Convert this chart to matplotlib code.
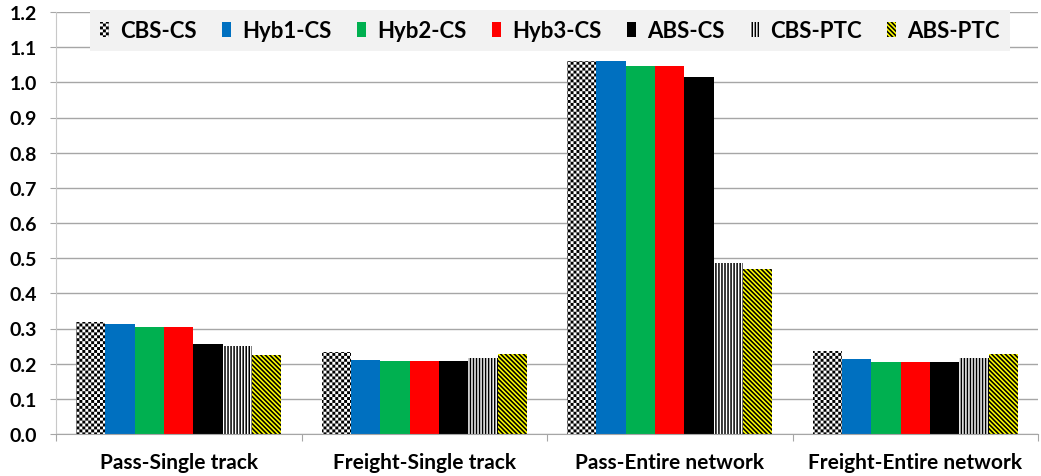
import numpy as np
import matplotlib
matplotlib.use('Agg')
import matplotlib.pyplot as plt
import matplotlib.hatch as mhatch
from matplotlib.path import Path

# ---------------- data ----------------
categories = ['Pass-Single track', 'Freight-Single track',
              'Pass-Entire network', 'Freight-Entire network']
series_names = ['CBS-CS', 'Hyb1-CS', 'Hyb2-CS', 'Hyb3-CS', 'ABS-CS', 'CBS-PTC', 'ABS-PTC']
cbs_cs = [0.318, 0.232, 1.061, 0.236]
hyb1_cs = [0.314, 0.211, 1.060, 0.213]
hyb2_cs = [0.304, 0.207, 1.046, 0.204]
hyb3_cs = [0.304, 0.207, 1.046, 0.204]
abs_cs = [0.255, 0.207, 1.015, 0.204]
cbs_ptc = [0.249, 0.216, 0.486, 0.216]
abs_ptc = [0.224, 0.227, 0.469, 0.227]
y_ticks = [0.0, 0.1, 0.2, 0.3, 0.4, 0.5, 0.6, 0.7, 0.8, 0.9, 1.0, 1.1, 1.2]

series_values = [cbs_cs, hyb1_cs, hyb2_cs, hyb3_cs, abs_cs, cbs_ptc, abs_ptc]


# ---------------- custom filled hatch patterns ----------------
class _PolyHatch(mhatch.HatchPatternBase):
    char = None

    def __init__(self, hatch, density):
        self.polys = self.build() if (hatch and self.char in hatch) else []
        self.num_vertices = 5 * len(self.polys)

    def set_vertices_and_codes(self, vertices, codes):
        for i, p in enumerate(self.polys):
            s = 5 * i
            vertices[s:s + 4] = p
            vertices[s + 4] = p[0]
            codes[s] = Path.MOVETO
            codes[s + 1:s + 4] = Path.LINETO
            codes[s + 4] = Path.CLOSEPOLY


class CheckerHatch(_PolyHatch):
    char = 'x'
    n = 34

    def build(self):
        c = 1.0 / self.n
        return [[(i * c, j * c), ((i + 1) * c, j * c), ((i + 1) * c, (j + 1) * c), (i * c, (j + 1) * c)]
                for i in range(self.n) for j in range(self.n) if (i + j) % 2 == 0]


class VStripeHatch(_PolyHatch):
    char = '|'
    n = 33

    def build(self):
        c = 1.0 / self.n
        w = 0.5 * c
        return [[(i * c, 0), (i * c + w, 0), (i * c + w, 1), (i * c, 1)] for i in range(self.n)]


class DiagHatch(_PolyHatch):
    char = '\\'
    n = 22

    def build(self):
        c = 1.0 / self.n
        w = 0.5 * c
        polys = []
        for k in range(-self.n, self.n + 1):
            x0 = k * c
            polys.append([(x0, 1), (x0 + w, 1), (x0 + w + 1, 0), (x0 + 1, 0)])
        return polys


mhatch._hatch_types = [CheckerHatch, VStripeHatch, DiagHatch]

plt.rcParams['hatch.linewidth'] = 0.01

# ---------------- styles ----------------
faces = ['white', '#0070C0', '#00B050', '#FF0000', '#000000', 'white', '#FFFF00']
hatches = ['x', None, None, None, None, '|', '\\']

FONT = ['Lato', 'DejaVu Sans']

fig = plt.figure(figsize=(10.41, 4.77), dpi=100)
ax = fig.add_axes([56 / 1041, 42 / 477, 982 / 1041, 422 / 477])

x = np.arange(len(categories))
w = 0.1195
for k, (name, vals) in enumerate(zip(series_names, series_values)):
    kw = dict(color=faces[k], linewidth=0)
    if hatches[k]:
        kw.update(hatch=hatches[k], edgecolor='black')
    ax.bar(x + (k - 3) * w, vals, width=w, label=name, **kw)

ax.set_xlim(-0.5, 3.5)
ax.set_ylim(0, 1.2)
ax.set_yticks(y_ticks)
ax.set_yticklabels([f'{v:.1f}' for v in y_ticks], fontsize=14, fontweight='bold',
                   family=FONT)
ax.tick_params(axis='y', direction='out', length=4.5, color='#a6a6a6', pad=9)

ax.set_xticks([-0.5, 0.5, 1.5, 2.5, 3.5])
ax.set_xticklabels([])
ax.tick_params(axis='x', which='major', direction='out', length=5, color='#a6a6a6')
ax.set_xticks(x, minor=True)
ax.set_xticklabels(categories, minor=True, family=FONT, weight='bold', size=15)
ax.tick_params(axis='x', which='minor', length=0, pad=13)

ax.yaxis.grid(True, color='#a6a6a6', linewidth=1)
ax.set_axisbelow(True)
for s in ['top', 'right']:
    ax.spines[s].set_visible(False)
ax.spines['left'].set_color('#c8c8c8')
ax.spines['bottom'].set_color('#a6a6a6')

leg = ax.legend(loc='upper center', bbox_to_anchor=(0.503, 1.005), ncol=7,
                prop=dict(family=FONT, weight='bold', size=16),
                frameon=True, fancybox=False, facecolor='#f2f2f2', edgecolor='none', framealpha=1,
                handlelength=0.4, handleheight=0.65, handletextpad=0.5, columnspacing=1.15,
                borderpad=0.45, borderaxespad=0)

fig.savefig('out.png', dpi=100)
